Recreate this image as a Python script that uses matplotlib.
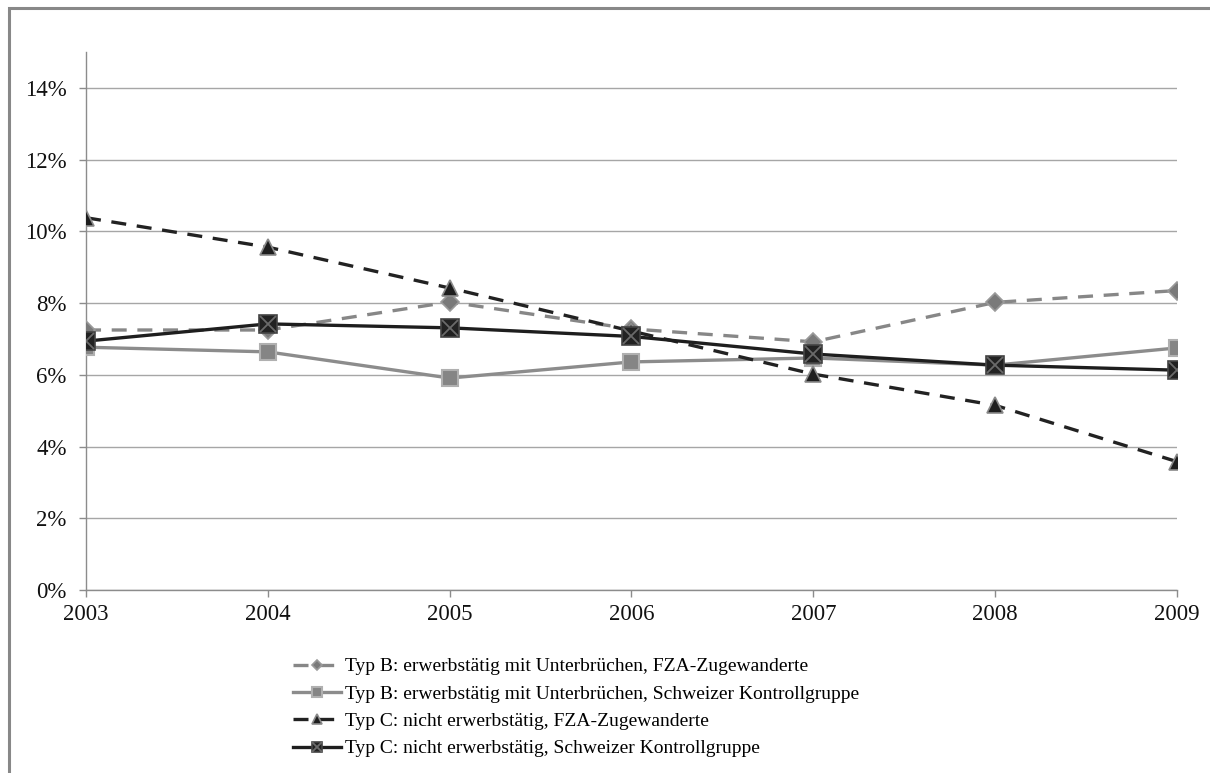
import matplotlib
matplotlib.use("Agg")
import matplotlib.pyplot as plt
from matplotlib.patches import Rectangle
from matplotlib.ticker import FuncFormatter
from matplotlib.legend_handler import HandlerTuple

plt.rcParams['font.family'] = ['Liberation Serif', 'DejaVu Serif']

# data (share in %)
years = [2003, 2004, 2005, 2006, 2007, 2008, 2009]
typ_b_fza = [7.25, 7.25, 8.03, 7.28, 6.92, 8.02, 8.35]
typ_b_ch = [6.77, 6.64, 5.91, 6.36, 6.47, 6.27, 6.75]
typ_c_fza = [10.38, 9.56, 8.42, 7.22, 6.02, 5.15, 3.58]
typ_c_ch = [6.94, 7.42, 7.31, 7.07, 6.58, 6.27, 6.13]
labels = [
    "Typ B: erwerbstätig mit Unterbrüchen, FZA-Zugewanderte",
    "Typ B: erwerbstätig mit Unterbrüchen, Schweizer Kontrollgruppe",
    "Typ C: nicht erwerbstätig, FZA-Zugewanderte",
    "Typ C: nicht erwerbstätig, Schweizer Kontrollgruppe",
]

fig = plt.figure(figsize=(12.1, 7.73), dpi=100)
ax = fig.add_axes([0.0711, 0.2367, 0.9016, 0.696])

# outer frame (right and bottom edges lie outside the picture)
fig.patches.append(Rectangle((9 / 1210, -0.05), 1.1, 1 - 8 / 773 + 0.05,
                             transform=fig.transFigure, fill=False,
                             edgecolor='#888888', linewidth=2.2, zorder=0))

dash = (0, (4.5, 3.2))
h1, = ax.plot(years, typ_b_fza, color='#878787', lw=2.4, linestyle=dash,
              marker='D', ms=9, mfc='#7a7a7a', mec='#9a9a9a', mew=1.2, zorder=3)
h2, = ax.plot(years, typ_b_ch, color='#8c8c8c', lw=2.4,
              marker='s', ms=11, mfc='#858585', mec='#b0b0b0', mew=1.5, zorder=3)
h3, = ax.plot(years, typ_c_fza, color='#222222', lw=2.4, linestyle=dash,
              marker='^', ms=11, mfc='#1e1e1e', mec='#8a8a8a', mew=1.2, zorder=4)
h4, = ax.plot(years, typ_c_ch, color='#1e1e1e', lw=2.4,
              marker='s', ms=13, mfc='#222222', mec='#444444', mew=1.2, zorder=5)
h4x, = ax.plot(years, typ_c_ch, linestyle='none', marker='x', ms=11,
               mec='#6a6a6a', mew=1.3, zorder=6)

ax.set_xlim(2003, 2009)
ax.set_ylim(0, 15)
ax.set_xticks(years)
ax.set_yticks(range(0, 15, 2))
ax.yaxis.set_major_formatter(FuncFormatter(lambda v, p: f"{v:.0f}%"))
ax.grid(axis='y', color='#a6a6a6', linewidth=1.0)
ax.set_axisbelow(True)
for s in ['top', 'right']:
    ax.spines[s].set_visible(False)
for s in ['left', 'bottom']:
    ax.spines[s].set_color('#8c8c8c')
    ax.spines[s].set_linewidth(1.0)
ax.tick_params(axis='both', colors='#8c8c8c', labelcolor='#111111',
               labelsize=16.5, length=5, width=1.0)
ax.tick_params(axis='y', pad=9)
ax.tick_params(axis='x', pad=5)

leg = fig.legend([h1, h2, h3, (h4, h4x)], labels,
                 handler_map={tuple: HandlerTuple(ndivide=1)},
                 loc='upper left', bbox_to_anchor=(283 / 1210, 1 - 648 / 773),
                 frameon=False, fontsize=14, handlelength=2.5,
                 handletextpad=0.2, labelspacing=0.5, markerscale=0.6,
                 borderpad=0)

fig.savefig("out.png", dpi=100)
